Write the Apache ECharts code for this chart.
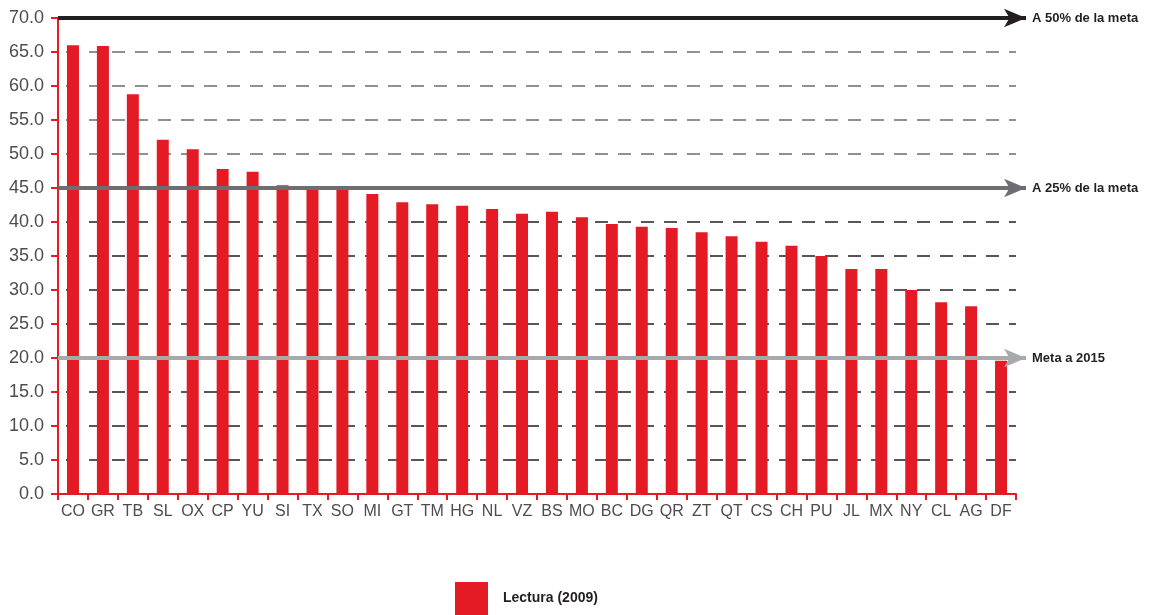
<!DOCTYPE html>
<html>
<head>
<meta charset="utf-8">
<script src="https://cdn.jsdelivr.net/npm/echarts@6/dist/echarts.min.js"></script>
<style>
  html, body { margin: 0; padding: 0; background: #fff; }
  #chart { width: 1169px; height: 615px; }
</style>
</head>
<body>
<div id="chart"></div>
<script>
// data
const states = ['CO', 'GR', 'TB', 'SL', 'OX', 'CP', 'YU', 'SI', 'TX', 'SO', 'MI', 'GT', 'TM', 'HG', 'NL', 'VZ',
  'BS', 'MO', 'BC', 'DG', 'QR', 'ZT', 'QT', 'CS', 'CH', 'PU', 'JL', 'MX', 'NY', 'CL', 'AG', 'DF'];
const lectura = [66.0, 65.9, 58.8, 52.1, 50.7, 47.8, 47.4, 45.4, 44.9, 44.8, 44.1, 42.9, 42.6, 42.4, 41.9, 41.2,
  41.5, 40.7, 39.7, 39.3, 39.1, 38.5, 37.9, 37.1, 36.5, 35.0, 33.1, 33.1, 30.0, 28.2, 27.6, 19.6];
const seriesName = 'Lectura (2009)';

// goal reference lines
const goalValues = [70, 45, 20];
const goalLabels = ['A 50% de la meta', 'A 25% de la meta', 'Meta a 2015'];
const goalColors = ['#231f20', '#6d6e71', '#a7a9ac'];

const red = '#e41b24';

let chart = echarts.init(document.getElementById('chart'));

let goalLines = goalValues.map((v, i) => [
  { coord: [0, v], lineStyle: { color: goalColors[i], width: 4, type: 'solid' } },
  { coord: [1, v], name: goalLabels[i] }
]);

let option = {
  animation: false,
  textStyle: { fontFamily: 'Liberation Sans, Arial, sans-serif' },
  legend: {
    left: 455,
    top: 582,
    padding: 0,
    itemWidth: 33,
    itemHeight: 33,
    icon: 'rect',
    data: [seriesName],
    textStyle: { fontSize: 14, fontWeight: 'bold', color: '#231f20', padding: [0, 0, 0, 10] }
  },
  grid: [
    { left: 58, top: 18, right: 153, bottom: 121 },
    { left: 58, top: 18, right: 143, bottom: 121 }
  ],
  xAxis: [
    {
      type: 'category',
      data: states,
      gridIndex: 0,
      axisLine: { lineStyle: { color: red, width: 2 } },
      axisTick: { show: true, length: 6, lineStyle: { color: red, width: 2 } },
      axisLabel: { fontSize: 16, color: '#4d4d4f', margin: 10, interval: 0 }
    },
    { type: 'value', gridIndex: 1, min: 0, max: 1, show: false }
  ],
  yAxis: [
    {
      type: 'value',
      gridIndex: 0,
      min: 0,
      max: 70,
      interval: 5,
      axisLine: { show: true, lineStyle: { color: red, width: 2 } },
      axisTick: { show: true, length: 7, lineStyle: { color: red, width: 2 } },
      axisLabel: {
        fontSize: 18,
        color: '#4d4d4f',
        margin: 14,
        formatter: v => v.toFixed(1)
      },
      splitLine: {
        show: true,
        lineStyle: {
          color: ['#231f20', '#231f20', '#231f20', '#231f20', '#231f20', '#231f20', '#231f20', '#231f20',
            '#231f20', '#6d6e71', '#6d6e71', '#6d6e71', '#6d6e71', '#6d6e71', '#231f20'],
          width: 1.5,
          type: [13, 10],
          dashOffset: -8
        }
      }
    },
    { type: 'value', gridIndex: 1, min: 0, max: 70, show: false }
  ],
  series: [
    {
      name: seriesName,
      type: 'bar',
      xAxisIndex: 0,
      yAxisIndex: 0,
      data: lectura,
      barWidth: 12,
      itemStyle: { color: red }
    },
    {
      type: 'line',
      xAxisIndex: 1,
      yAxisIndex: 1,
      data: [],
      markLine: {
        silent: true,
        symbol: ['none', 'arrow'],
        symbolSize: [14, 22],
        label: {
          show: true,
          position: 'end',
          distance: 6,
          formatter: p => p.data.name || goalLabels[p.dataIndex],
          fontSize: 13,
          fontWeight: 'bold',
          color: '#231f20'
        },
        data: goalLines
      }
    }
  ]
};

chart.setOption(option);
window.onresize = () => {
  chart.resize();
};
</script>
</body>
</html>
